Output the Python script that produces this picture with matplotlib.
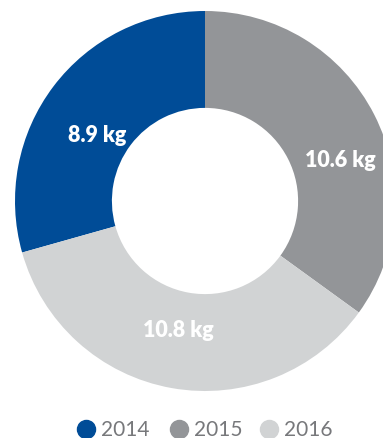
import matplotlib
matplotlib.use("Agg")
import matplotlib.pyplot as plt
from matplotlib.lines import Line2D
import numpy as np

years = ["2014", "2015", "2016"]
values = [8.9, 10.6, 10.8]
labels = ["8.9 kg", "10.6 kg", "10.8 kg"]
colors = ["#004C97", "#939598", "#D1D3D4"]

W, H = 383, 439
fig = plt.figure(figsize=(W / 100, H / 100), dpi=100)
cx, cy, R = 205, 202, 190
ax = fig.add_axes([(cx - R) / W, (H - cy - R) / H, 2 * R / W, 2 * R / H])

total = sum(values)
start = 90 + 360 * values[0] / total
wedges, _ = ax.pie(values, colors=colors, startangle=start, counterclock=False,
                   radius=1.0, wedgeprops=dict(width=0.51, linewidth=0))
ax.set_xlim(-1, 1)
ax.set_ylim(-1, 1)
ax.set_aspect("equal")
ax.axis("off")

label_pos = [(-0.57, 0.35), (0.71, 0.22), (-0.14, -0.675)]
for (x, y), t in zip(label_pos, labels):
    ax.text(x, y, t, ha="center", va="center", color="white",
            fontsize=15.5, fontweight="heavy", family=["Lato", "DejaVu Sans"])

# legend drawn manually
leg_y = 1 - 430 / H
marker_x = [86, 179, 269]
for mx, c, yr in zip(marker_x, colors, years):
    fig.add_artist(Line2D([mx / W], [leg_y], marker="o", markersize=13,
                          markerfacecolor=c, markeredgecolor=c, linestyle="",
                          transform=fig.transFigure))
    fig.text((mx + 15) / W, leg_y, yr, ha="left", va="center", color="#77787B",
             fontsize=15, fontweight="normal", family=["Lato", "DejaVu Sans"])

fig.savefig("out.png", dpi=100)
